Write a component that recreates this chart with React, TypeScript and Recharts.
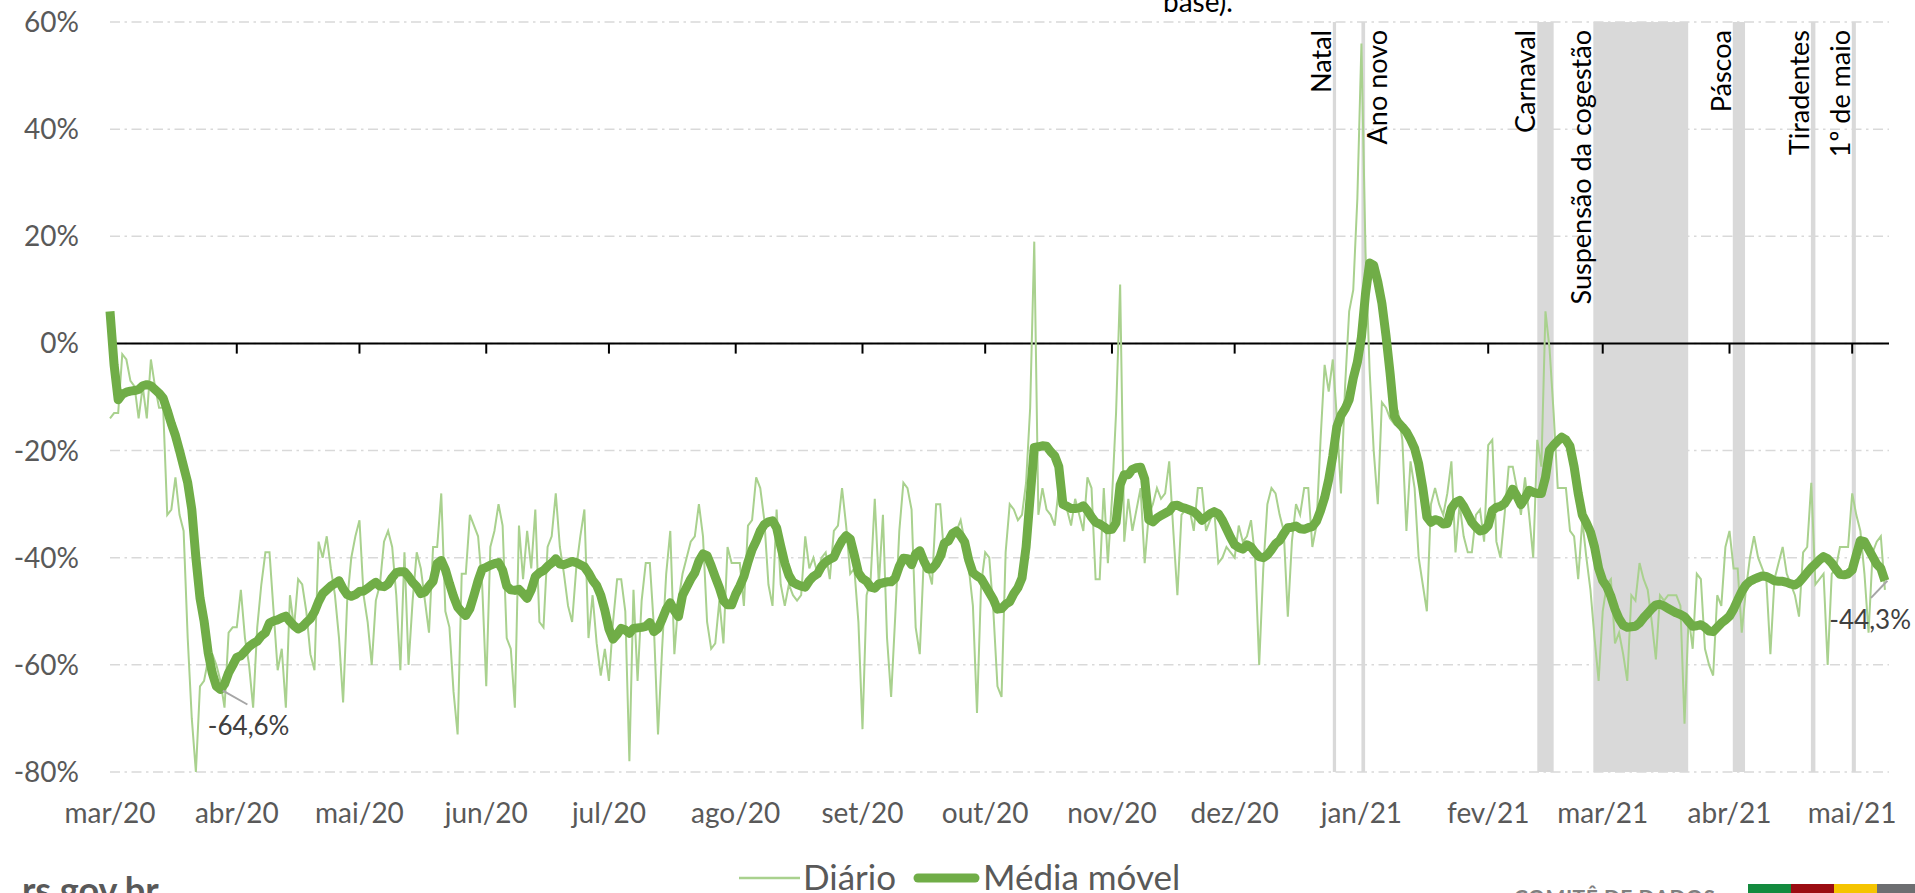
import {
  LineChart,
  Line,
  XAxis,
  YAxis,
  CartesianGrid,
  ReferenceArea,
  ReferenceLine,
  ReferenceDot,
} from "recharts";

// dia 0 = 01/03/2020
const MONTH_TICKS = [0, 31, 61, 92, 122, 153, 184, 214, 245, 275, 306, 337, 365, 396, 426];
const MONTH_LABELS = [
  "mar/20", "abr/20", "mai/20", "jun/20", "jul/20", "ago/20", "set/20", "out/20",
  "nov/20", "dez/20", "jan/21", "fev/21", "mar/21", "abr/21", "mai/21",
];
const Y_TICKS = [-80, -60, -40, -20, 0, 20, 40, 60];

// variação diária (%)
const DIARIO = [
  -14, -13, -13, -2, -3, -7, -8, -14, -8, -14,
  -3, -8, -12, -12, -32, -31, -25, -32, -35, -55,
  -70, -80, -64, -63, -59, -58, -60, -63, -68, -54,
  -53, -53, -46, -55, -60, -68, -53, -45, -39, -39,
  -50, -61, -57, -68, -47, -53, -44, -45, -50, -58,
  -61, -37, -40, -36, -42, -47, -55, -67, -48, -40,
  -36, -33, -47, -52, -60, -48, -45, -37, -35, -38,
  -47, -61, -39, -60, -48, -39, -42, -48, -54, -38,
  -38, -28, -50, -53, -65, -73, -43, -43, -32, -34,
  -36, -45, -64, -38, -35, -30, -34, -55, -57, -68,
  -34, -44, -35, -42, -31, -52, -53, -38, -36, -28,
  -38, -43, -49, -52, -42, -36, -31, -55, -47, -56,
  -62, -57, -63, -52, -44, -44, -50, -78, -46, -63,
  -48, -41, -41, -53, -73, -57, -43, -35, -58, -48,
  -43, -40, -37, -36, -30, -36, -52, -57, -56, -48,
  -56, -38, -41, -41, -41, -49, -34, -33, -25, -27,
  -33, -45, -49, -31, -45, -49, -45, -47, -48, -47,
  -36, -42, -40, -43, -40, -39, -44, -35, -34, -27,
  -34, -43, -42, -52, -72, -47, -44, -29, -45, -32,
  -55, -66, -51, -35, -26, -27, -31, -53, -58, -40,
  -42, -45, -30, -30, -40, -36, -35, -35, -33, -37,
  -42, -49, -69, -45, -39, -40, -50, -64, -66, -39,
  -30, -31, -33, -32, -26, -12, 19, -32, -27, -31,
  -32, -34, -27, -28, -31, -34, -29, -32, -35, -25,
  -27, -44, -44, -27, -41, -29, -13, 11, -37, -29,
  -35, -31, -27, -41, -32, -30, -27, -29, -28, -22,
  -35, -47, -32, -31, -31, -35, -27, -27, -35, -33,
  -31, -41, -40, -38, -39, -40, -34, -37, -36, -33,
  -40, -60, -42, -30, -27, -28, -32, -35, -51, -37,
  -30, -32, -27, -27, -38, -34, -18, -4, -9, -3,
  -14, -28, -8, 6, 10, 27, 56, 17, -5, -20,
  -30, -11, -12, -14, -15, -13, -18, -35, -22, -27,
  -40, -45, -50, -30, -27, -30, -32, -28, -22, -39,
  -30, -36, -39, -39, -32, -31, -37, -19, -18, -37,
  -40, -32, -23, -23, -27, -32, -25, -32, -40, -18,
  -23, 6, -1, -13, -27, -27, -27, -35, -36, -44,
  -33, -40, -46, -55, -63, -50, -45, -44, -56, -54,
  -58, -63, -47, -48, -41, -44, -46, -52, -59, -47,
  -48, -47, -47, -47, -49, -71, -51, -57, -43, -44,
  -57, -60, -62, -47, -49, -38, -35, -42, -42, -54,
  -46, -40, -36, -40, -42, -44, -58, -44, -41, -38,
  -43, -45, -47, -51, -39, -38, -26, -45, -44, -43,
  -60, -43, -42, -38, -38, -38, -28, -32, -35, -43,
  -54, -39, -37, -36, -46,
];

// média móvel (%)
const MEDIA = [
  6, -4, -10.5, -9.5, -9.1, -8.9, -8.8, -8.6, -7.9, -7.7,
  -7.9, -8.6, -9.3, -10.2, -12.5, -15, -17.2, -20, -23, -26,
  -31, -40, -47.5, -51.8, -57.7, -61.5, -64, -64.6, -63.6, -61.5,
  -60.1, -58.6, -58.3, -57.5, -56.6, -56, -55.6, -54.6, -54, -52.2,
  -51.8, -51.6, -51.2, -50.9, -51.9, -52.7, -53.3, -52.9, -52.1, -51.4,
  -50.1, -48.2, -46.7, -46, -45.3, -44.8, -44.3, -45.8, -46.9, -47.2,
  -46.9, -46.3, -46.2, -45.7, -45.1, -44.6, -45.3, -45.4, -44.9, -43.7,
  -42.8, -42.6, -42.6, -43.5, -44.6, -45.4, -46.7, -46.4, -45.3, -44.4,
  -41.1, -40.5, -42.2, -44.8, -47.2, -49.2, -50.1, -50.8, -49.5, -47,
  -44.3, -42.1, -41.8, -41.4, -41.1, -40.9, -42.3, -45.3, -46, -46.1,
  -45.9, -46.7, -47.6, -46, -43.5, -42.8, -42.4, -41.6, -41, -40.2,
  -41.2, -41.3, -41, -40.7, -40.9, -41.3, -41.7, -42.8, -44.2, -45.2,
  -47, -49.8, -53.3, -55.2, -54.3, -53.2, -53.5, -54.1, -53.2, -53.1,
  -53, -52.8, -52.1, -53.8, -53.2, -51.5, -49.6, -48.4, -49.9, -51,
  -47, -45.5, -44, -42.8, -40.6, -39.3, -39.6, -41.5, -43.6, -45.6,
  -48, -48.8, -48.8, -46.8, -45.3, -43.5, -40.8, -38.5, -36.9, -35,
  -33.8, -33.3, -33.1, -34.4, -37.8, -41, -43.3, -44.6, -45, -45.3,
  -45.5, -44.3, -43.5, -43, -41.6, -40.8, -40.3, -39.9, -38.2, -36.8,
  -35.9, -36.5, -39.5, -42.8, -43.9, -44.4, -45.5, -45.7, -44.9, -44.7,
  -44.5, -44.5, -43.8, -41.6, -40.1, -40.2, -41.3, -39.3, -38.7, -40.6,
  -42.1, -42.1, -41.2, -39.8, -37.3, -36.9, -35.5, -35, -35.9, -37.1,
  -40.5, -42.8, -43.4, -43.9, -45.2, -46.5, -47.8, -49.6, -49.5, -48.7,
  -48.2, -46.7, -45.6, -43.8, -38, -28.6, -19.4, -19.3, -19.1, -19.2,
  -20.2, -21, -23, -30, -30.4, -30.8, -30.8, -30.7, -30.3, -31.2,
  -32.4, -33.4, -33.7, -34.2, -34.8, -34.7, -33.5, -26.4, -24.5, -24.5,
  -23.5, -23.2, -23.1, -25.3, -32.9, -33.3, -32.6, -32.1, -31.7, -31.3,
  -30.3, -30.2, -30.6, -30.8, -31.1, -31.4, -32.1, -33, -32.4, -31.8,
  -31.4, -31.8, -33, -34.6, -36.2, -37.6, -38.1, -38.4, -37.6, -38,
  -39, -39.8, -40, -39.5, -38.5, -37.4, -36.8, -35.5, -34.4, -34.3,
  -34.1, -34.6, -34.7, -34.4, -34.2, -33.2, -31.2, -28.8, -25.4, -21,
  -15.5, -13.4, -12.2, -10.5, -6.5, -3.5, 1.2, 9.3, 15, 14.6,
  11.5, 7.5, 1.5, -5.5, -13.5, -14.8, -15.6, -16.5, -17.9, -19.6,
  -22.5, -27, -32.4, -33.4, -32.9, -33.1, -33.7, -33.6, -30.8, -29.7,
  -29.3, -30.4, -31.9, -33.4, -34.3, -35, -34.8, -34, -31.2, -30.6,
  -30.4, -29.9, -28.7, -27.2, -28.5, -30.1, -28.9, -27.4, -27.8, -28,
  -28, -25, -19.9, -19, -18.2, -17.5, -18, -19.2, -23, -28,
  -32, -33.5, -35.2, -38, -42, -44.3, -45.4, -47.2, -49.6, -51.4,
  -52.6, -53, -52.9, -52.8, -52.2, -51.2, -50.4, -49.5, -48.8, -48.7,
  -49, -49.5, -49.9, -50.3, -50.6, -51, -51.9, -52.8, -52.7, -52.5,
  -53, -53.7, -53.8, -53, -52.2, -51.6, -50.9, -49.6, -47.9, -46.3,
  -45.1, -44.4, -44, -43.7, -43.4, -43.5, -43.9, -44.3, -44.4, -44.4,
  -44.6, -44.9, -45.1, -44.6, -43.7, -42.8, -41.9, -41.2, -40.4, -39.8,
  -40.2, -41, -42.1, -43.1, -43.2, -43, -42.3, -39.5, -36.8, -37,
  -38.4, -39.8, -41.2, -42, -44.3,
];

// eventos (faixas cinzas), em dias desde 01/03/2020
const EVENT_NAMES = ["Natal", "Ano novo", "Carnaval", "Suspensão da cogestão", "Páscoa", "Tiradentes", "1º de maio"];
const EVENT_START = [299.0, 306.0, 349.0, 362.7, 396.8, 415.9, 425.9];
const EVENT_END = [299.8, 306.9, 353.0, 385.9, 399.8, 417.0, 426.9];
const EVENT_SIDE = ["left", "right", "left", "left", "left", "left", "left"];

const data = DIARIO.map((v, i) => ({ dia: i, diario: v, media: MEDIA[i] }));

const FONT = "Lato";
const AXIS_TEXT = "#595959";

function bandLabel(name: string, side: string) {
  return (props: any) => {
    const vb = props.viewBox || {};
    const bx = side === "left" ? vb.x - 2 : vb.x + vb.width + 22;
    return (
      <text
        x={bx}
        y={30}
        transform={`rotate(-90 ${bx} 30)`}
        textAnchor="end"
        fill="#000"
        fontSize={27}
        fontFamily={FONT}
      >
        {name}
      </text>
    );
  };
}

export default function App() {
  return (
    <div
      style={{
        position: "relative",
        width: 1915,
        height: 893,
        overflow: "hidden",
        background: "#fff",
        fontFamily: FONT,
      }}
    >
      <style>{"body{margin:0}"}</style>
      <LineChart
        width={1915}
        height={893}
        data={data}
        margin={{ top: 22, right: 26, bottom: 0, left: 0 }}
      >
        <CartesianGrid
          vertical={false}
          stroke="#d9d9d9"
          strokeWidth={1.5}
          strokeDasharray="10 4.5 2.5 4.5"
        />
        <XAxis
          type="number"
          dataKey="dia"
          domain={[0, 435]}
          ticks={MONTH_TICKS}
          interval={0}
          tickFormatter={(v: number) => MONTH_LABELS[MONTH_TICKS.indexOf(v)]}
          axisLine={false}
          tickLine={false}
          tickSize={0}
          tickMargin={31}
          height={121}
          tick={{ fill: AXIS_TEXT, fontSize: 28, fontFamily: FONT }}
        />
        <YAxis
          type="number"
          domain={[-80, 60]}
          ticks={Y_TICKS}
          interval={0}
          tickFormatter={(v: number) => `${v}%`}
          axisLine={false}
          tickLine={false}
          tickSize={0}
          tickMargin={31}
          width={110}
          tick={{ fill: AXIS_TEXT, fontSize: 28, fontFamily: FONT }}
        />
        {EVENT_NAMES.map((name, i) => (
          <ReferenceArea
            key={name}
            x1={EVENT_START[i]}
            x2={EVENT_END[i]}
            fill="#d9d9d9"
            fillOpacity={1}
            stroke="none"
            label={bandLabel(name, EVENT_SIDE[i])}
          />
        ))}
        <ReferenceLine y={0} stroke="#000" strokeWidth={2} />
        {MONTH_TICKS.map((t) => (
          <ReferenceLine
            key={`tick-${t}`}
            segment={[
              { x: t, y: 0 },
              { x: t, y: -1.9 },
            ]}
            stroke="#000"
            strokeWidth={2}
          />
        ))}
        <Line
          type="linear"
          dataKey="diario"
          stroke="#a9d18e"
          strokeWidth={2}
          dot={false}
          activeDot={false}
          isAnimationActive={false}
        />
        <Line
          type="linear"
          dataKey="media"
          stroke="#70ad47"
          strokeWidth={9}
          strokeLinejoin="round"
          dot={false}
          activeDot={false}
          isAnimationActive={false}
        />
        <ReferenceLine
          segment={[
            { x: 27.6, y: -64.8 },
            { x: 33.6, y: -67.4 },
          ]}
          stroke="#a6a6a6"
          strokeWidth={2}
        />
        <ReferenceDot
          x={33.9}
          y={-71.4}
          r={1}
          fill="none"
          stroke="none"
          label={{ value: "-64,6%", position: "center", fill: "#404040", fontSize: 26, fontFamily: FONT }}
        />
        <ReferenceLine
          segment={[
            { x: 434.6, y: -44.3 },
            { x: 430.6, y: -47.5 },
          ]}
          stroke="#a6a6a6"
          strokeWidth={2}
        />
        <ReferenceDot
          x={430.4}
          y={-51.6}
          r={1}
          fill="none"
          stroke="none"
          label={{ value: "-44,3%", position: "center", fill: "#404040", fontSize: 26, fontFamily: FONT }}
        />
      </LineChart>

      <svg
        width={1915}
        height={893}
        style={{ position: "absolute", left: 0, top: 0, pointerEvents: "none" }}
      >
        <text x={1163} y={12} fontSize={28} fontFamily={FONT} fill="#000">
          base).
        </text>
        {/* legenda */}
        <line x1={739} x2={800} y1={878} y2={878} stroke="#a9d18e" strokeWidth={2.5} />
        <text x={803} y={890} fontSize={35} fontFamily={FONT} fill={AXIS_TEXT}>
          Diário
        </text>
        <line x1={918} x2={975} y1={878} y2={878} stroke="#70ad47" strokeWidth={9} strokeLinecap="round" />
        <text x={983} y={890} fontSize={35} fontFamily={FONT} fill={AXIS_TEXT}>
          Média móvel
        </text>
        {/* rodapé */}
        <text x={22} y={903} fontSize={36} fontWeight={700} fontFamily={FONT} fill="#595959">
          rs.gov.br
        </text>
        <text x={1514} y={905} fontSize={21} fontWeight={700} fontFamily={FONT} fill="#7f7f7f" letterSpacing={0.5}>
          COMITÊ DE DADOS
        </text>
        <rect x={1748} y={884} width={43} height={9} fill="#138a3e" />
        <rect x={1791} y={884} width={43} height={9} fill="#9b0d12" />
        <rect x={1834} y={884} width={43} height={9} fill="#f5c400" />
        <rect x={1877} y={884} width={38} height={9} fill="#6d6e71" />
      </svg>
    </div>
  );
}
